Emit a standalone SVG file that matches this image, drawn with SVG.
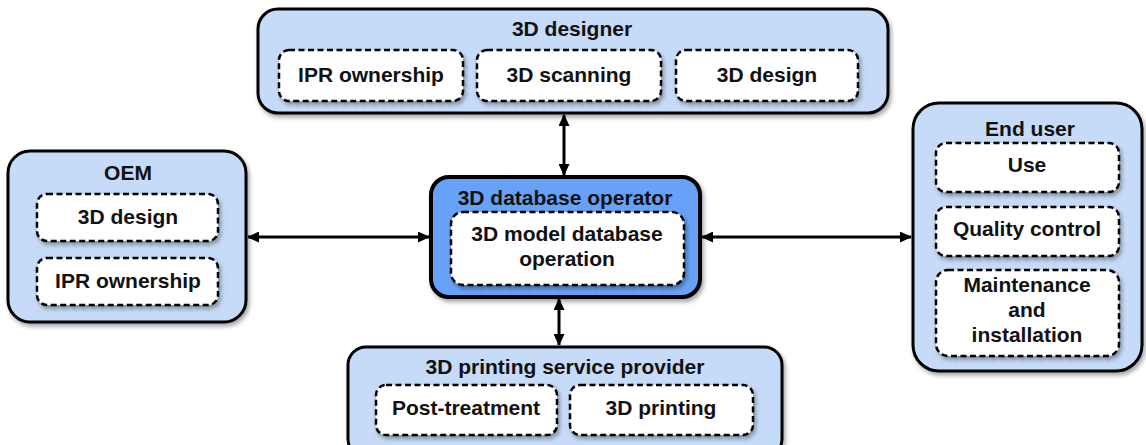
<svg xmlns="http://www.w3.org/2000/svg" width="1146" height="445" viewBox="0 0 1146 445">
<defs>
<style>
.outer{fill:#c6dbf8;stroke:#000;stroke-width:3}
.center{fill:#67a2f8;stroke:#000;stroke-width:4}
.inner{fill:#fff;stroke:#000;stroke-width:2.5;stroke-dasharray:6 3.5}
.t{font-family:"Liberation Sans",Arial,sans-serif;font-weight:bold;font-size:21px;fill:#111;text-anchor:middle}
.c{stroke:#000;stroke-width:3;fill:none;marker-start:url(#ah);marker-end:url(#ah)}
</style>
<filter id="sh" x="-10%" y="-10%" width="130%" height="130%">
<feDropShadow dx="2" dy="3" stdDeviation="2" flood-color="#000" flood-opacity="0.35"/>
</filter>
<marker id="ah" viewBox="0 0 12 11" refX="11" refY="5.5" markerUnits="userSpaceOnUse" markerWidth="12" markerHeight="11" orient="auto-start-reverse">
<path d="M0,0 L12,5.5 L0,11 z" fill="#000"/>
</marker>
</defs>
<g id="connectors">
<line class="c" x1="564" y1="115" x2="564" y2="175"/>
<line class="c" x1="559" y1="299" x2="559" y2="345"/>
<line class="c" x1="248" y1="237" x2="429" y2="237"/>
<line class="c" x1="702" y1="237" x2="911" y2="237"/>
</g>
<g id="designer">
<rect class="outer" filter="url(#sh)" x="258" y="9" width="630" height="104" rx="20"/>
<text class="t" x="572" y="36">3D designer</text>
<rect class="inner" filter="url(#sh)" x="279" y="50" width="184" height="51" rx="10"/>
<text class="t" x="371" y="82">IPR ownership</text>
<rect class="inner" filter="url(#sh)" x="477" y="50" width="184" height="51" rx="10"/>
<text class="t" x="569" y="82">3D scanning</text>
<rect class="inner" filter="url(#sh)" x="676" y="50" width="182" height="51" rx="10"/>
<text class="t" x="767" y="82">3D design</text>
</g>
<g id="oem">
<rect class="outer" filter="url(#sh)" x="8" y="151" width="238" height="171" rx="22"/>
<text class="t" x="128" y="180">OEM</text>
<rect class="inner" filter="url(#sh)" x="37" y="194" width="181" height="47" rx="10"/>
<text class="t" x="128" y="224">3D design</text>
<rect class="inner" filter="url(#sh)" x="37" y="258" width="181" height="47" rx="10"/>
<text class="t" x="128" y="288">IPR ownership</text>
</g>
<g id="operator">
<rect class="center" filter="url(#sh)" x="431" y="177" width="269" height="120" rx="18"/>
<text class="t" x="565" y="205">3D database operator</text>
<rect class="inner" filter="url(#sh)" x="451" y="212" width="233" height="73" rx="12"/>
<text class="t" x="567" y="241">3D model database</text>
<text class="t" x="567" y="266">operation</text>
</g>
<g id="enduser">
<rect class="outer" filter="url(#sh)" x="913" y="103" width="229" height="268" rx="26"/>
<text class="t" x="1030" y="136">End user</text>
<rect class="inner" filter="url(#sh)" x="936" y="143" width="183" height="49" rx="10"/>
<text class="t" x="1027" y="172">Use</text>
<rect class="inner" filter="url(#sh)" x="936" y="207" width="183" height="49" rx="10"/>
<text class="t" x="1027" y="236">Quality control</text>
<rect class="inner" filter="url(#sh)" x="936" y="270" width="183" height="86" rx="12"/>
<text class="t" x="1027" y="292">Maintenance</text>
<text class="t" x="1027" y="317">and</text>
<text class="t" x="1027" y="342">installation</text>
</g>
<g id="printing">
<rect class="outer" filter="url(#sh)" x="348" y="347" width="434" height="110" rx="18"/>
<text class="t" x="565" y="374">3D printing service provider</text>
<rect class="inner" filter="url(#sh)" x="376" y="385" width="181" height="50" rx="10"/>
<text class="t" x="466" y="415">Post-treatment</text>
<rect class="inner" filter="url(#sh)" x="570" y="385" width="183" height="50" rx="10"/>
<text class="t" x="661" y="415">3D printing</text>
</g>
</svg>
